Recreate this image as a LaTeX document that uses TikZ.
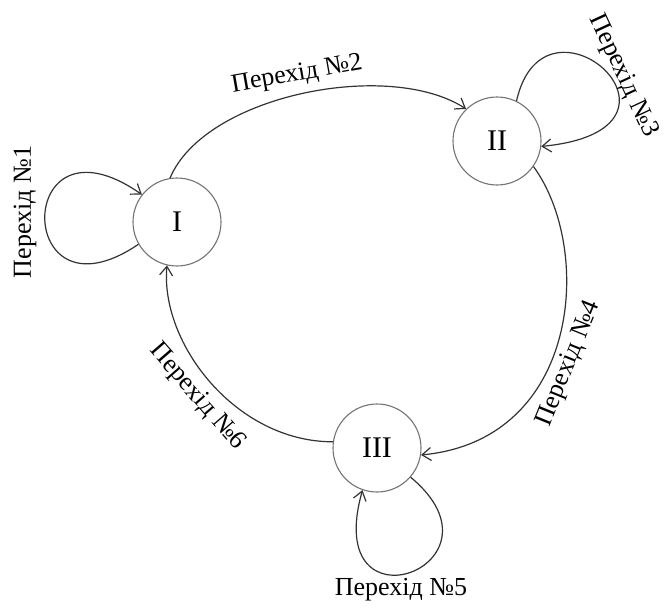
\documentclass[tikz,border=0pt]{standalone}
\usepackage{fontspec}
\setmainfont{Liberation Serif}
\usetikzlibrary{arrows.meta}
\begin{document}
\begin{tikzpicture}[x=1pt,y=-1pt,
  state/.style={circle,draw=black!55,line width=1.1pt,minimum size=88pt,inner sep=0pt,font=\fontsize{30}{34}\selectfont},
  edge/.style={draw=black!80,line width=1.2pt,-{Straight Barb[length=9pt,width=13pt,line width=1.2pt]}},
  lbl/.style={font=\fontsize{26}{30}\selectfont,inner sep=0pt}]
\useasboundingbox (0,0) rectangle (665,608);
\node[state] (I) at (177,222) {I};
\node[state] (II) at (497,141) {II};
\node[state] (III) at (377,448) {III};
% transition 1
\draw[edge] (I.210) .. controls +(-125,85) and +(-129,-90) .. (I.142);
% transition 2
\draw[edge] (I.99) .. controls +(35,-83) and +(-77,-50) .. (II.134);
% transition 3
\draw[edge] (II.64) .. controls +(28,-125) and +(175,-17) .. (II.-7);
% transition 4
\draw[edge] (II.-35) .. controls +(60,82) and +(160,-15) .. (III.-9);
% transition 5
\draw[edge] (III.-41) .. controls +(106,88) and +(-42,148) .. (III.-109);
% transition 6
\draw[edge] (III.172) .. controls +(-97,0) and +(-7,78) .. (I.-103);
\node[lbl,rotate=90] (l1) at (25,212) {Перехід №1};
\node[lbl,rotate=10] (l2) at (297,75) {Перехід №2};
\node[lbl,rotate=-65] (l3) at (623,76) {Перехід №3};
\node[lbl,rotate=68] (l4) at (569,364) {Перехід №4};
\node[lbl] (l5) at (401,590) {Перехід №5};
\node[lbl,rotate=-49] (l6) at (197,397) {Перехід №6};
\end{tikzpicture}
\end{document}
